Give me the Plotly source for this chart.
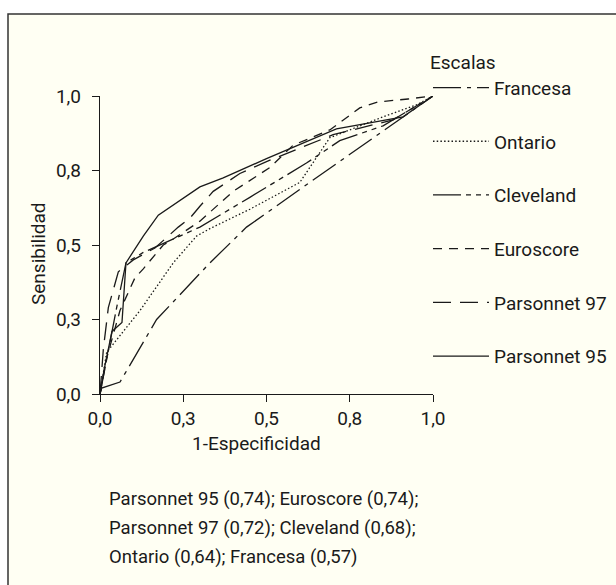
import plotly.graph_objects as go

# ---- data ----
series_names = ["Francesa", "Ontario", "Cleveland", "Euroscore", "Parsonnet 97", "Parsonnet 95"]

francesa_x = [0, 0.005, 0.06, 0.17, 0.33, 0.44, 0.63, 0.91, 1]
francesa_y = [0, 0.02, 0.04, 0.25, 0.44, 0.56, 0.71, 0.93, 1]

ontario_x = [0, 0.02, 0.07, 0.12, 0.17, 0.22, 0.29, 0.33, 0.45, 0.60, 0.66, 0.69, 0.85, 0.95, 1]
ontario_y = [0, 0.14, 0.21, 0.28, 0.36, 0.44, 0.53, 0.555, 0.62, 0.71, 0.81, 0.86, 0.93, 0.97, 1]

cleveland_x = [0, 0.02, 0.05, 0.078, 0.13, 0.24, 0.30, 0.45, 0.62, 0.72, 0.85, 1]
cleveland_y = [0, 0.12, 0.29, 0.44, 0.475, 0.53, 0.56, 0.66, 0.775, 0.85, 0.90, 1]

euroscore_x = [0, 0.02, 0.06, 0.105, 0.13, 0.19, 0.22, 0.30, 0.40, 0.51, 0.58, 0.69, 0.78, 0.835, 0.925, 1]
euroscore_y = [0, 0.12, 0.28, 0.39, 0.42, 0.50, 0.52, 0.58, 0.68, 0.76, 0.835, 0.886, 0.96, 0.98, 0.99, 1]

parsonnet97_x = [0, 0.01, 0.025, 0.055, 0.10, 0.165, 0.235, 0.27, 0.30, 0.34, 0.42, 0.50, 0.70, 0.88, 1]
parsonnet97_y = [0, 0.15, 0.29, 0.41, 0.45, 0.49, 0.56, 0.59, 0.63, 0.68, 0.74, 0.78, 0.87, 0.92, 1]

parsonnet95_x = [0, 0.012, 0.036, 0.066, 0.078, 0.13, 0.175, 0.30, 0.37, 0.50, 0.71, 0.91, 1]
parsonnet95_y = [0, 0.08, 0.21, 0.24, 0.44, 0.53, 0.60, 0.695, 0.725, 0.79, 0.89, 0.93, 1]

tick_vals = [0, 0.25, 0.5, 0.75, 1.0]
tick_text = ["0,0", "0,3", "0,5", "0,8", "1,0"]

auc_lines = [
    "Parsonnet 95 (0,74); Euroscore (0,74);",
    "Parsonnet 97 (0,72); Cleveland (0,68);",
    "Ontario (0,64); Francesa (0,57)",
]

# ---- styling ----
FONT = "Roboto, Liberation Sans, sans-serif"
FS = 19
INK = "#1a1a1a"
dashes = {
    "Francesa": "28px,6px,4px,6px",
    "Ontario": "1.5px,2.2px",
    "Cleveland": "28px,5px,5px,5px,5px,5px",
    "Euroscore": "9px,7px",
    "Parsonnet 97": "18px,9px",
    "Parsonnet 95": "solid",
}
xs = [francesa_x, ontario_x, cleveland_x, euroscore_x, parsonnet97_x, parsonnet95_x]
ys = [francesa_y, ontario_y, cleveland_y, euroscore_y, parsonnet97_y, parsonnet95_y]

W, H = 616, 585
L, R, T, B = 100, 183, 96, 191
pw, ph = W - L - R, H - T - B


def px2x(p):
    return (p - L) / pw


def py2y(p):
    return (H - B - p) / ph


fig = go.Figure()
for name, x, y in zip(series_names, xs, ys):
    fig.add_trace(go.Scatter(
        x=x, y=y, mode="lines", name=name, legendgroup=name,
        line=dict(color=INK, width=1.3, dash=dashes[name]),
        hoverinfo="skip",
    ))

# panel background with border (top and left visible)
fig.add_shape(type="rect", xref="paper", yref="paper",
              x0=px2x(8), x1=px2x(640), y0=py2y(14), y1=py2y(620),
              fillcolor="#FFFFF3", line=dict(color="#333333", width=1.5), layer="below")

axis_common = dict(
    range=[0, 1], tickvals=tick_vals, ticktext=tick_text, showgrid=False, zeroline=False,
    showline=True, linecolor=INK, linewidth=1.3, ticks="outside", ticklen=7, tickwidth=1.3,
    tickcolor=INK, tickfont=dict(family=FONT, size=FS, color=INK), fixedrange=True,
)
fig.update_xaxes(**axis_common)
fig.update_yaxes(**axis_common, ticklabelstandoff=7)

fig.add_annotation(text="1-Especificidad", xref="paper", yref="paper",
                   x=px2x(256), y=py2y(443), xanchor="center", yanchor="middle",
                   showarrow=False, font=dict(family=FONT, size=FS, color=INK))
fig.add_annotation(text="Sensibilidad", xref="paper", yref="paper", textangle=-90,
                   x=px2x(38), y=py2y(254), xanchor="center", yanchor="middle",
                   showarrow=False, font=dict(family=FONT, size=FS, color=INK))
for i, line in enumerate(auc_lines):
    fig.add_annotation(text=line, xref="paper", yref="paper", xanchor="left", yanchor="middle",
                       x=px2x(107), y=py2y(499 + 29 * i), showarrow=False,
                       font=dict(family=FONT, size=18.5, color=INK))

fig.update_layout(
    width=W, height=H,
    margin=dict(l=L, r=R, t=T, b=B, autoexpand=False),
    paper_bgcolor="white", plot_bgcolor="rgba(0,0,0,0)",
    showlegend=True,
    legend=dict(
        title=dict(text="Escalas", side="top", font=dict(family=FONT, size=FS, color=INK)),
        font=dict(family=FONT, size=FS, color=INK),
        x=px2x(428), y=py2y(44), xanchor="left", yanchor="top",
        bgcolor="rgba(0,0,0,0)", tracegroupgap=26, itemwidth=56,
        traceorder="grouped", maxheight=560,
    ),
)

fig.write_html("out.html", config={"displayModeBar": False},
               post_script="document.body.style.margin='0';document.body.style.overflow='hidden';")
